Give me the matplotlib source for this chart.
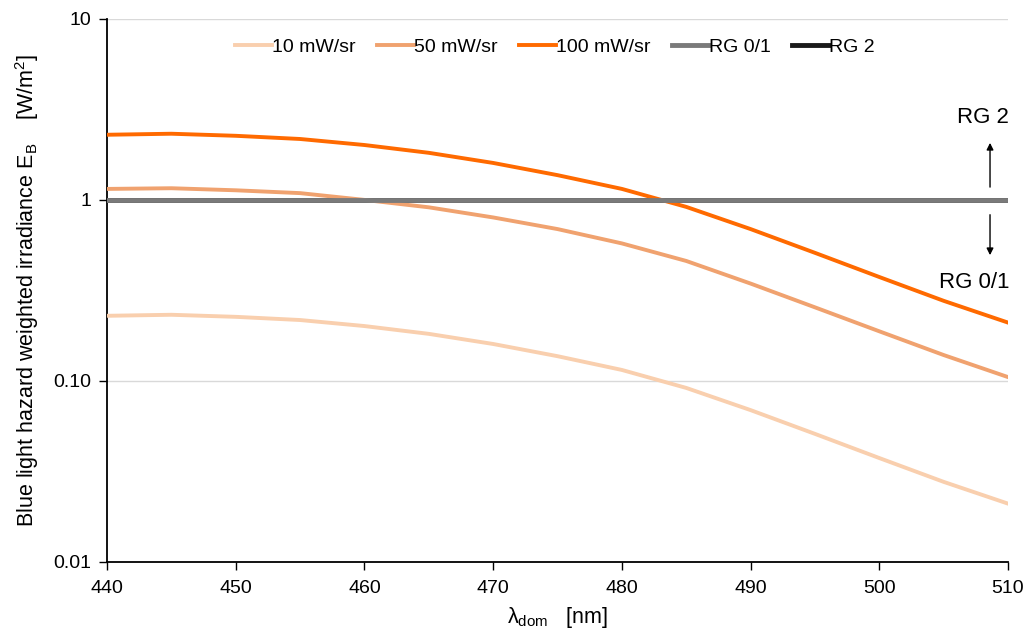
import numpy as np
import matplotlib
matplotlib.use("Agg")
import matplotlib.pyplot as plt

plt.rcParams['font.family'] = ['Liberation Sans', 'DejaVu Sans']
plt.rcParams['mathtext.default'] = 'regular'

wavelength = [440, 445, 450, 455, 460, 465, 470, 475, 480, 485, 490, 495, 500, 505, 510]
e_10 = [0.229, 0.232, 0.226, 0.217, 0.201, 0.182, 0.160, 0.137, 0.115, 0.0915, 0.069, 0.051, 0.0375, 0.0277, 0.021]
e_50 = [1.15, 1.16, 1.13, 1.09, 1.00, 0.91, 0.80, 0.69, 0.575, 0.46, 0.345, 0.255, 0.188, 0.139, 0.105]
e_100 = [2.29, 2.32, 2.26, 2.17, 2.01, 1.82, 1.60, 1.37, 1.15, 0.915, 0.69, 0.51, 0.375, 0.277, 0.21]
rg_limit = [1.0, 1.0]
rg_x = [440, 510]

fig = plt.figure(figsize=(10.26, 6.33), dpi=100)
ax = fig.add_axes([0.1043, 0.1122, 0.8782, 0.858])

ax.plot(wavelength, e_10, color='#f9cfae', lw=2.8, label='10 mW/sr', zorder=3)
ax.plot(wavelength, e_50, color='#f0a26f', lw=2.8, label='50 mW/sr', zorder=3)
ax.plot(wavelength, e_100, color='#ff6a00', lw=2.8, label='100 mW/sr', zorder=3)
ax.plot(rg_x, rg_limit, color='#1a1a1a', lw=3.5, label='RG 2', zorder=2)
ax.plot(rg_x, rg_limit, color='#7a7a7a', lw=3.5, label='RG 0/1', zorder=4)

ax.set_yscale('log')
ax.set_ylim(0.01, 10)
ax.set_xlim(440, 510)
ax.set_xticks(range(440, 511, 10))
ax.set_yticks([0.01, 0.1, 1, 10])
ax.set_yticklabels(['0.01', '0.10', '1', '10'])
ax.yaxis.set_minor_locator(matplotlib.ticker.NullLocator())
ax.tick_params(axis='both', labelsize=14, direction='out', length=6, width=1, color='black')
ax.tick_params(axis='x', pad=7)
ax.tick_params(axis='y', pad=5)

for y in [0.1, 1, 10]:
    ax.axhline(y, color='#d9d9d9', lw=1, zorder=1)

ax.spines['top'].set_visible(False)
ax.spines['right'].set_visible(False)
ax.spines['left'].set_linewidth(1.3)
ax.spines['bottom'].set_linewidth(1.3)

ax.set_xlabel(r'$\lambda_{dom}$   [nm]', fontsize=15.5, labelpad=6)
ax.set_ylabel(r'Blue light hazard weighted irradiance E$_B$    [W/m$^2$]', fontsize=15.5, labelpad=9)

handles, labels = ax.get_legend_handles_labels()
order = [0, 1, 2, 4, 3]
ax.legend([handles[i] for i in order], [labels[i] for i in order],
          loc='upper center', bbox_to_anchor=(0.497, 0.997), ncol=5, frameon=False,
          fontsize=14, handlelength=1.9, handletextpad=0.0, columnspacing=1.1)

ax.annotate('', xy=(508.6, 2.14), xytext=(508.6, 1.136),
            arrowprops=dict(arrowstyle='-|>', color='black', lw=1, mutation_scale=10))
ax.annotate('', xy=(508.6, 0.478), xytext=(508.6, 0.858),
            arrowprops=dict(arrowstyle='-|>', color='black', lw=1, mutation_scale=10))
ax.text(510.1, 2.84, 'RG 2', fontsize=16, ha='right', va='center', clip_on=False)
ax.text(510.1, 0.348, 'RG 0/1', fontsize=16, ha='right', va='center', clip_on=False)

fig.savefig('out.png', dpi=100)
